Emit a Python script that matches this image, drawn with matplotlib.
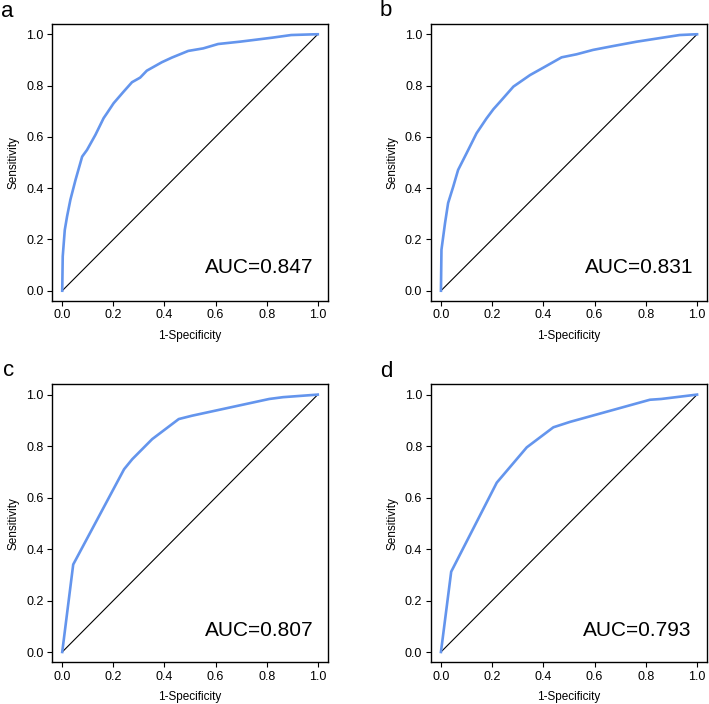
import matplotlib
matplotlib.use("Agg")
import matplotlib.pyplot as plt

plt.rcParams['font.family'] = ['Liberation Sans', 'DejaVu Sans']

# Panel a
a_fpr = [0.0, 0.002, 0.01, 0.019, 0.032, 0.052, 0.078, 0.097, 0.13, 0.162, 0.175, 0.201,
         0.24, 0.273, 0.305, 0.331, 0.39, 0.429, 0.493, 0.552, 0.61, 0.695, 0.76, 0.824,
         0.896, 0.993, 1.0]
a_tpr = [0.0, 0.134, 0.237, 0.29, 0.355, 0.432, 0.523, 0.549, 0.608, 0.673, 0.692, 0.731,
         0.776, 0.813, 0.831, 0.858, 0.891, 0.909, 0.935, 0.945, 0.962, 0.971, 0.979, 0.987,
         0.997, 1.0, 1.0]
# Panel b
b_fpr = [0.0, 0.002, 0.016, 0.028, 0.048, 0.067, 0.1, 0.139, 0.178, 0.205, 0.231, 0.283,
         0.348, 0.4, 0.471, 0.53, 0.594, 0.672, 0.764, 0.867, 0.932, 0.997, 1.0]
b_tpr = [0.0, 0.16, 0.264, 0.342, 0.406, 0.471, 0.536, 0.614, 0.672, 0.708, 0.737, 0.796,
         0.841, 0.87, 0.91, 0.922, 0.939, 0.954, 0.971, 0.987, 0.997, 1.0, 1.0]
# Panel c
c_fpr = [0.0, 0.043, 0.242, 0.274, 0.352, 0.456, 0.508, 0.81, 0.864, 1.0]
c_tpr = [0.0, 0.34, 0.71, 0.749, 0.827, 0.905, 0.918, 0.983, 0.99, 1.0]
# Panel d
d_fpr = [0.0, 0.04, 0.218, 0.335, 0.439, 0.504, 0.816, 0.86, 1.0]
d_tpr = [0.0, 0.312, 0.658, 0.795, 0.873, 0.894, 0.98, 0.983, 1.0]

panel_labels = ['a', 'b', 'c', 'd']
auc_texts = ['AUC=0.847', 'AUC=0.831', 'AUC=0.807', 'AUC=0.793']
ticks = [0.0, 0.2, 0.4, 0.6, 0.8, 1.0]
tick_labels = ['0.0', '0.2', '0.4', '0.6', '0.8', '1.0']

W, H = 709, 704
fig = plt.figure(figsize=(W / 100, H / 100), dpi=100)

# axes boxes in pixel coords: (left, top, right, bottom)
boxes = [(52, 24, 328, 301), (430.7, 24, 707.3, 301),
         (52, 384.3, 328, 662.3), (430.7, 384.3, 707.3, 662.3)]
letter_pos = [(1, 17), (380, 16), (3, 376), (380, 377)]
auc_x = [0.558, 0.562, 0.558, 0.554]
auc_y = [0.07, 0.07, 0.063, 0.063]

series = [(a_fpr, a_tpr), (b_fpr, b_tpr), (c_fpr, c_tpr), (d_fpr, d_tpr)]
curve_color = '#6495ED'

for i, (box, (fx, ty)) in enumerate(zip(boxes, series)):
    l, t, r, b = box
    ax = fig.add_axes([l / W, 1 - b / H, (r - l) / W, (b - t) / H])
    ax.plot([0, 1], [0, 1], color='black', lw=0.8)
    ax.plot(fx, ty, color=curve_color, lw=1.9, solid_joinstyle='round')
    ax.set_xlim(-0.04, 1.04)
    ax.set_ylim(-0.04, 1.04)
    ax.set_xticks(ticks)
    ax.set_xticklabels(tick_labels)
    ax.set_yticks(ticks)
    ax.set_yticklabels(tick_labels)
    ax.tick_params(direction='out', length=3.5, width=0.8, labelsize=9, pad=2.5, colors='black')
    for s in ax.spines.values():
        s.set_linewidth(1.0)
        s.set_color('black')
    ax.set_xlabel('1-Specificity', fontsize=8.5, labelpad=6)
    ax.set_ylabel('Sensitivity', fontsize=8.5, labelpad=5)
    ax.text(auc_x[i], auc_y[i], auc_texts[i], fontsize=15, transform=ax.transData,
            ha='left', va='baseline')
    lx, ly = letter_pos[i]
    fig.text(lx / W, 1 - ly / H, panel_labels[i], fontsize=16, ha='left', va='baseline')

fig.savefig('out.png', dpi=100)
